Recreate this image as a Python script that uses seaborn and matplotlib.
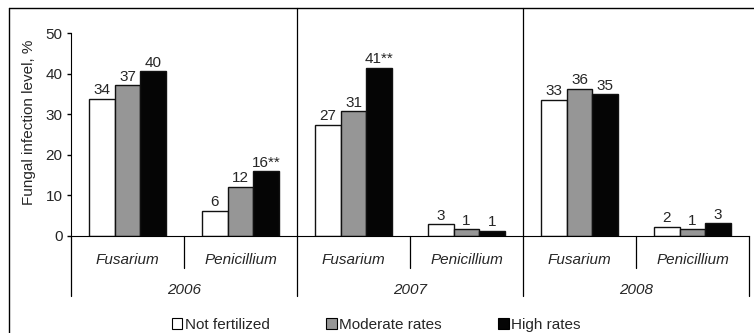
import pandas as pd
import matplotlib.pyplot as plt
import seaborn as sns
from matplotlib.patches import Patch
from matplotlib.lines import Line2D
from matplotlib.transforms import blended_transform_factory

# === Data ===
years = ["2006", "2007", "2008"]
fungi = ["Fusarium", "Penicillium"]
treatments = ["Not fertilized", "Moderate rates", "High rates"]

# bar heights (%), one list per treatment, order: 2006 Fus, 2006 Pen, 2007 Fus, 2007 Pen, 2008 Fus, 2008 Pen
not_fertilized = [33.8, 6.2, 27.4, 2.9, 33.6, 2.2]
moderate_rates = [37.2, 12.1, 30.8, 1.6, 36.3, 1.6]
high_rates = [40.6, 16.0, 41.5, 1.2, 35.0, 3.1]

# printed labels above bars
labels_not = ["34", "6", "27", "3", "33", "2"]
labels_mod = ["37", "12", "31", "1", "36", "1"]
labels_high = ["40", "16**", "41**", "1", "35", "3"]

colors = ["#ffffff", "#969696", "#050505"]
FS = 11

# === Build long table ===
groups = [f"{y} {f}" for y in years for f in fungi]
rows = []
for tr, vals in zip(treatments, [not_fertilized, moderate_rates, high_rates]):
    for g, v in zip(groups, vals):
        rows.append({"group": g, "treatment": tr, "value": v})
df = pd.DataFrame(rows)

sns.set_style("white")
plt.rcParams["font.family"] = ["Liberation Sans", "DejaVu Sans"]
plt.rcParams["font.size"] = FS

fig = plt.figure(figsize=(7.54, 3.33), dpi=100)
ax = fig.add_axes([71 / 754, 97.3 / 333, 678 / 754, 227.7 / 333])

sns.barplot(data=df, x="group", y="value", hue="treatment", order=groups,
            hue_order=treatments, palette=colors, width=0.68, edgecolor="#111111",
            linewidth=1, saturation=1, legend=False, ax=ax)

for cont, labs in zip(ax.containers, [labels_not, labels_mod, labels_high]):
    ax.bar_label(cont, labels=labs, padding=1, fontsize=FS)

ax.set_xlim(-0.5, len(groups) - 0.5)
ax.set_ylim(0, 56.25)
ax.set_yticks(range(0, 51, 10))
ax.set_xticks([])
ax.set_xlabel("")
ax.set_ylabel("Fungal infection level, %", fontsize=FS, labelpad=7)
ax.tick_params(axis="y", direction="out", length=3, width=1, color="black", left=True,
               pad=3, labelsize=FS)

for side in ["top", "right"]:
    ax.spines[side].set_visible(False)
ax.spines["left"].set_bounds(0, 50)
ax.spines["left"].set_color("black")
ax.spines["bottom"].set_color("black")
ax.spines["bottom"].set_position(("data", 0))

# === Two-level category axis ===
trans = blended_transform_factory(ax.transData, ax.transAxes)
lw = 0.9
for i, g in enumerate(groups):
    ax.text(i, -0.107, fungi[i % 2], transform=trans, ha="center", va="center",
            style="italic", fontsize=FS)
for j, y in enumerate(years):
    ax.text(2 * j + 0.5, -0.239, y, transform=trans, ha="center", va="center",
            style="italic", fontsize=FS)
    # short tick between fungi in a year
    ax.plot([2 * j + 0.5] * 2, [0, -0.142], transform=trans, color="black",
            lw=lw, clip_on=False)
# year separators
for x in [-0.5, 5.5]:
    ax.plot([x, x], [0, -0.265], transform=trans, color="black", lw=lw, clip_on=False)
for x in [1.5, 3.5]:
    ax.plot([x, x], [1.0, -0.265], transform=trans, color="black", lw=lw, clip_on=False)

# === Outer frame (left and top edges) ===
fig.add_artist(Line2D([9 / 754, 9 / 754], [0, 1 - 8 / 333], color="black", lw=1))
fig.add_artist(Line2D([9 / 754, 1], [1 - 8 / 333, 1 - 8 / 333], color="black", lw=1))

# === Legend ===
handles = [Patch(facecolor=c, edgecolor="black", linewidth=0.8) for c in colors]
fig.legend(handles, treatments, loc="center", bbox_to_anchor=(0.499, 0.024), ncol=3,
           frameon=False, handlelength=0.7, handleheight=0.7, handletextpad=0.15,
           columnspacing=3.7, borderpad=0, borderaxespad=0, fontsize=FS)

fig.savefig("out.png", dpi=100)
